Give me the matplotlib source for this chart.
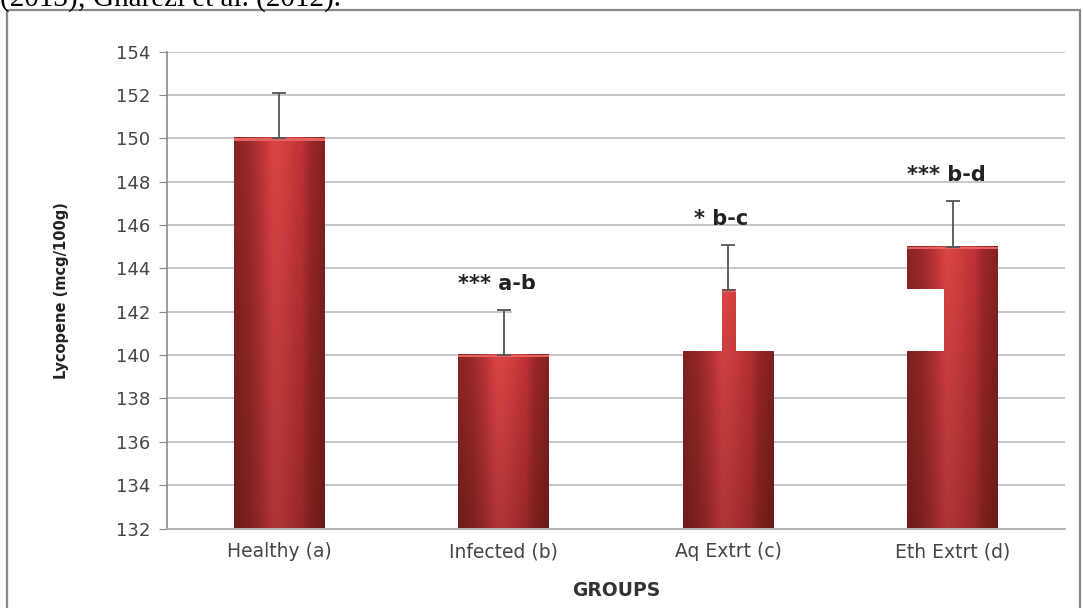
import matplotlib
matplotlib.use("Agg")
import matplotlib.pyplot as plt
from matplotlib.patches import Rectangle
from matplotlib.colors import LinearSegmentedColormap
import numpy as np

# chart data
groups = ["Healthy (a)", "Infected (b)", "Aq Extrt (c)", "Eth Extrt (d)"]
lycopene = [150, 140, 143, 145]
sd = [2.1, 2.1, 2.1, 2.1]
sig_labels = ["", "*** a-b", "* b-c", "*** b-d"]
yticks = [132, 134, 136, 138, 140, 142, 144, 146, 148, 150, 152, 154]

W, H = 1083, 608
fig = plt.figure(figsize=(W / 100, H / 100), dpi=100)
fig.patch.set_facecolor("white")

# cut-off line of body text above the chart (the reference shows only its lower half)
fig.text(0.0, 1 - 6 / H, "(2013); Gharezi et al. (2012).", family="Liberation Serif",
         fontsize=21, color="black", ha="left", va="baseline")

# outer chart frame
fig.add_artist(Rectangle((7 / W, -0.05), (1080 - 7) / W, (H - 10) / H + 0.05,
                         transform=fig.transFigure, fill=False,
                         edgecolor="#8a8a8a", lw=1.6, zorder=1))

ax = fig.add_axes([167 / W, (H - 528.5) / H, (1065 - 167) / W, (528.5 - 51.7) / H])
x = np.arange(len(groups))
bars = ax.bar(x, lycopene, width=0.405, color="#d23c3c", zorder=3)
ax.errorbar(x, lycopene, yerr=[np.zeros(len(sd)), sd], fmt="none",
            ecolor="#555555", elinewidth=1.3, capsize=5, capthick=1.3, zorder=4)

# shade each bar with a gradient clipped to the bar's own box
cmap = LinearSegmentedColormap.from_list("bar", ["#8a2424", "#c93a3a", "#da4545",
                                                  "#d64242", "#cc3c3c", "#bf3434", "#862222"])
prof = np.array([0.0, 0.05, 0.15, 0.45, 0.75, 0.93, 1.0])
xs = np.linspace(0, 1, 200)
hz = np.interp(xs, np.linspace(0, 1, len(prof)), prof)
grad = np.tile(hz, (60, 1))
shade_cmap = LinearSegmentedColormap.from_list("s", [(0, 0, 0, 0), (0.25, 0, 0, 1)])
for b in bars:
    b.set_facecolor("none")
    x0, y0, w, h = b.get_x(), b.get_y(), b.get_width(), b.get_height()
    ax.imshow(grad, cmap=cmap, aspect="auto", extent=[x0, x0 + w, 132, y0 + h],
              origin="lower", zorder=3, interpolation="bilinear")
    shade = np.linspace(0.22, 0.0, 60)[:, None] * np.ones((1, 2))
    ax.imshow(shade, cmap=shade_cmap, vmin=0, vmax=1, aspect="auto",
              extent=[x0, x0 + w, 132, y0 + h], origin="lower", zorder=3.1,
              interpolation="bilinear")
    ax.add_patch(Rectangle((x0, y0 + h - 0.1), w, 0.1, facecolor="#e46262",
                           edgecolor="none", zorder=3.2))
ax.set_xlim(-0.5, len(groups) - 0.5)
ax.set_ylim(132, 154)

for xi, v, e, lab in zip(x, lycopene, sd, sig_labels):
    if lab:
        ax.text(xi - 0.03, v + e + 1.2, lab, ha="center", va="center", fontsize=15,
                fontweight="bold", color="#222222", zorder=5)

ax.set_yticks(yticks)
ax.set_xticks(x)
ax.set_xticklabels(groups)
ax.tick_params(axis="y", length=6, color="#8a8a8a", labelsize=13, labelcolor="#454545", pad=6)
ax.tick_params(axis="x", length=0, labelsize=13.5, labelcolor="#454545", pad=10)
ax.yaxis.grid(True, color="#c4c4c4", lw=1.3, zorder=0)
ax.set_axisbelow(True)
for s in ["top", "right"]:
    ax.spines[s].set_visible(False)
ax.spines["left"].set_color("#8a8a8a")
ax.spines["bottom"].set_color("#b0b0b0")
ax.spines["left"].set_linewidth(1.2)
ax.spines["bottom"].set_linewidth(1.3)

ax.set_ylabel("Lycopene (mcg/100g)", fontsize=10.5, fontweight="bold", color="#222222", labelpad=34)
ax.set_xlabel("GROUPS", fontsize=13.5, fontweight="bold", color="#333333", labelpad=14)

# white blocks pasted over the original figure
for px0, px1 in [(512, 722), (736, 944)]:
    fig.add_artist(Rectangle((px0 / W, (H - 351) / H), (px1 - px0) / W, 62 / H,
                             transform=fig.transFigure, facecolor="white",
                             edgecolor="none", zorder=10))

fig.savefig("out.png", dpi=100)
